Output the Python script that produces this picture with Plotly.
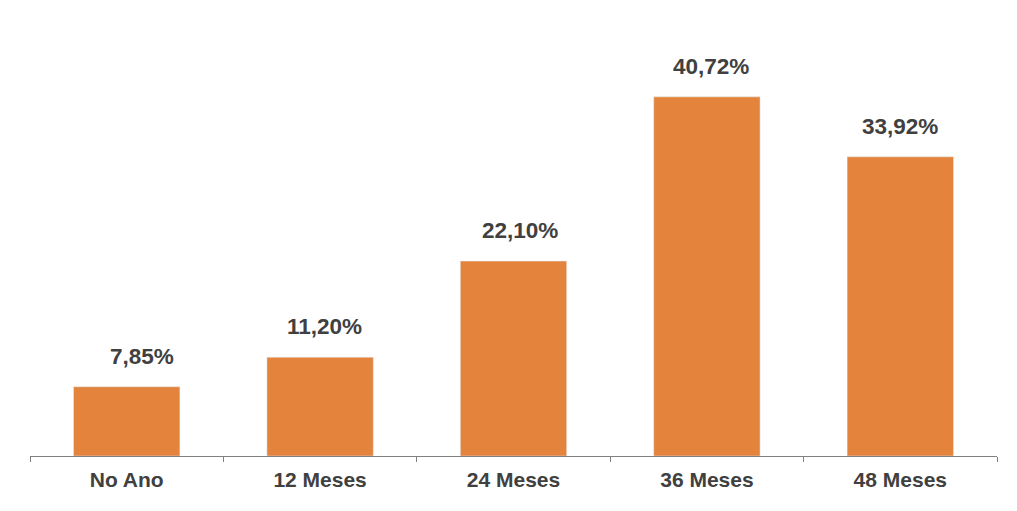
import plotly.graph_objects as go

categories = ["No Ano", "12 Meses", "24 Meses", "36 Meses", "48 Meses"]
values = [7.85, 11.20, 22.10, 40.72, 33.92]
labels = ["7,85%", "11,20%", "22,10%", "40,72%", "33,92%"]

bar_color = "#E3833C"
text_color = "#404040"
font_family = "Liberation Sans, Arial, sans-serif"

fig = go.Figure(go.Bar(x=categories, y=values, marker_color=bar_color, width=0.55))

# small horizontal nudges of the value labels, as in the original
label_nudge = [15, 4, 6, 4, 0]

for c, v, t, dx in zip(categories, values, labels, label_nudge):
    fig.add_annotation(x=c, y=v, text=t, showarrow=False, yanchor="bottom", yshift=16, xshift=dx,
                       font=dict(family=font_family, size=22.5, color=text_color, weight="bold"))

fig.update_layout(
    width=1017, height=511,
    margin=dict(l=22, r=28, t=7, b=63),
    paper_bgcolor="white", plot_bgcolor="white",
    showlegend=False,
    xaxis=dict(showline=True, linecolor="#808080", linewidth=1, ticks="outside", ticklen=5,
               tickcolor="#808080", tickson="boundaries", ticklabelstandoff=5,
               tickfont=dict(family=font_family, size=21, color=text_color, weight="bold")),
    yaxis=dict(range=[0, 50], visible=False, showgrid=False, zeroline=False),
)

fig.write_html("out.html")
